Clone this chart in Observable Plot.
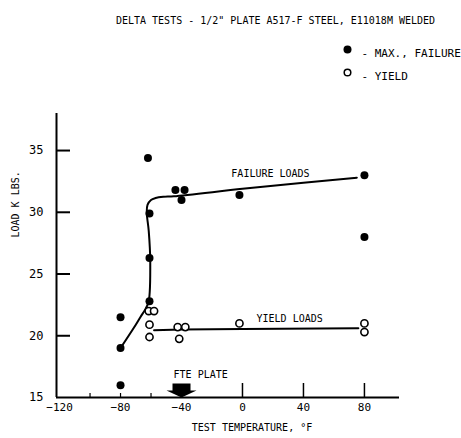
<!DOCTYPE html>
<html>
<head>
<meta charset="utf-8">
<script src="https://cdn.jsdelivr.net/npm/d3@7"></script>
<script src="https://cdn.jsdelivr.net/npm/@observablehq/plot@0.6"></script>
<style>
  html, body { margin: 0; padding: 0; background: #fff; }
  svg { display: block; }
</style>
</head>
<body>
<div id="chart"></div>
<script>
// Maximum (failure) loads, kips, by test temperature (°F)
const failTemp = [-80, -80, -80, -62, -61, -61, -61, -44, -38, -40, -2, 80, 80];
const failLoad = [21.5, 19.0, 16.0, 34.4, 29.9, 26.3, 22.8, 31.8, 31.8, 31.0, 31.4, 33.0, 28.0];

// Yield loads, kips
const yieldTemp = [-61.5, -58, -61, -61, -42.5, -37.5, -41.5, -2, 80, 80];
const yieldLoad = [22.0, 22.0, 20.9, 19.9, 20.7, 20.7, 19.75, 21.0, 21.0, 20.3];

// Faired curve through the failure loads
const failCurveTemp = [-80, -72, -67, -63.5, -61.5, -60.5, -61.5, -62.8, -62.3, -60, -57, -52, -45, 0, 40, 75];
const failCurveLoad = [19.0, 20.5, 21.5, 22.2, 22.8, 26.0, 28.5, 30.0, 30.6, 31.0, 31.15, 31.25, 31.3, 31.9, 32.4, 32.8];

// Faired line through the yield loads
const yieldCurveTemp = [-58, -40, 0, 76];
const yieldCurveLoad = [20.45, 20.5, 20.55, 20.6];

// FTE of the plate
const fteTemp = -40;

// Axis ticks
const xTickLabels = [-120, -80, -40, 0, 40, 80];
const xMajorTicks = [0, 40, 80];
const xMinorTicks = [-100, -80, -60];
const yTickLabels = [15, 20, 25, 30, 35];
const yTickMarks = [20, 25, 30, 35];

// Curve annotations
const notes = [
  {text: "FAILURE LOADS", temp: -7.3, load: 33.1},
  {text: "YIELD LOADS", temp: 9.2, load: 21.4},
  {text: "FTE PLATE", temp: -45.2, load: 16.8}
];

const title = "DELTA TESTS - 1/2\" PLATE A517-F STEEL, E11018M WELDED";

const xDomain = [-122, 103];
const yDomain = [15, 38];

const failPts = failTemp.map((t, i) => ({t, load: failLoad[i]}));
const yieldPts = yieldTemp.map((t, i) => ({t, load: yieldLoad[i]}));
const failCurve = failCurveTemp.map((t, i) => ({t, load: failCurveLoad[i]}));
const yieldCurve = yieldCurveTemp.map((t, i) => ({t, load: yieldCurveLoad[i]}));

// Block arrow pointing down, tip at the anchor point
const downArrow = {
  draw(ctx) {
    ctx.moveTo(-9, -14);
    ctx.lineTo(9, -14);
    ctx.lineTo(9, -7);
    ctx.lineTo(15, -7);
    ctx.lineTo(0, 0);
    ctx.lineTo(-15, -7);
    ctx.lineTo(-9, -7);
    ctx.closePath();
  }
};

const chart = Plot.plot({
  width: 461,
  height: 438,
  marginLeft: 56,
  marginRight: 62,
  marginTop: 113,
  marginBottom: 41,
  style: {fontFamily: "'DejaVu Sans Mono', monospace", fontSize: "10px", background: "#fff", color: "#000"},
  x: {domain: xDomain},
  y: {domain: yDomain},
  marks: [
    // axis lines
    Plot.ruleX([xDomain[0]], {strokeWidth: 2}),
    Plot.ruleY([yDomain[0]], {strokeWidth: 2}),
    // inward ticks
    Plot.axisY(yTickMarks, {tickSize: -14, fill: "none", label: null, strokeWidth: 2}),
    Plot.axisX(xMajorTicks, {tickSize: -14, fill: "none", label: null, strokeWidth: 1.5}),
    Plot.axisX(xMinorTicks, {tickSize: -4, fill: "none", label: null, strokeWidth: 1.2}),
    // tick labels
    Plot.axisY(yTickLabels, {tickSize: 0, tickPadding: 13, label: null, fontSize: 12}),
    Plot.axisX(xTickLabels, {tickSize: 0, tickPadding: 6, label: null, fontSize: 11}),
    // axis titles
    Plot.text(["LOAD K LBS."], {frameAnchor: "left", dx: -41, dy: -18, rotate: -90, fontSize: 10}),
    Plot.text(["TEST TEMPERATURE, °F"], {frameAnchor: "bottom", dx: 24, dy: 33, fontSize: 10}),
    // faired curves
    Plot.line(failCurve, {x: "t", y: "load", curve: "catmull-rom", strokeWidth: 2}),
    Plot.line(yieldCurve, {x: "t", y: "load", curve: "linear", strokeWidth: 2}),
    // test points
    Plot.dot(yieldPts, {x: "t", y: "load", r: 3.6, fill: "#fff", stroke: "#000", strokeWidth: 1.6}),
    Plot.dot(failPts, {x: "t", y: "load", r: 4, fill: "#000", stroke: "none"}),
    // FTE arrow
    Plot.dot([fteTemp], {x: d => d, frameAnchor: "bottom", symbol: downArrow, fill: "#000", stroke: "none"}),
    // annotations
    Plot.text(notes, {x: "temp", y: "load", text: "text", textAnchor: "start", fontSize: 10}),
    // title
    Plot.text([title], {frameAnchor: "top-left", dx: 219, dy: -97, textAnchor: "middle", fontSize: 10}),
    // legend
    Plot.dot([0], {frameAnchor: "top-left", dx: 291, dy: -64, r: 4, fill: "#000", stroke: "none"}),
    Plot.text(["- MAX., FAILURE"], {frameAnchor: "top-left", dx: 305, dy: -64, textAnchor: "start", fontSize: 11}),
    Plot.dot([0], {frameAnchor: "top-left", dx: 291, dy: -41, r: 3.3, fill: "#fff", stroke: "#000", strokeWidth: 1.5}),
    Plot.text(["- YIELD"], {frameAnchor: "top-left", dx: 305, dy: -41, textAnchor: "start", fontSize: 11})
  ]
});

document.getElementById("chart").appendChild(chart);
</script>
</body>
</html>
